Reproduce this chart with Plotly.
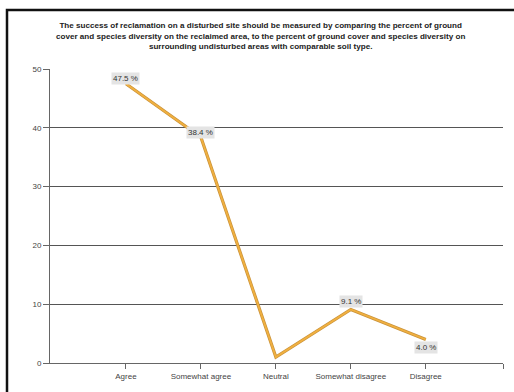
import plotly.graph_objects as go

categories = ["Agree", "Somewhat agree", "Neutral", "Somewhat disagree", "Disagree"]
values = [47.5, 38.4, 1.0, 9.1, 4.0]
labels = ["47.5 %", "38.4 %", "", "9.1 %", "4.0 %"]
label_shift = [5, 5, 0, 8, -8]
yticks = [0, 10, 20, 30, 40, 50]

title = ("The success of reclamation on a disturbed site should be measured by comparing the percent of ground<br>"
         "cover and species diversity on the reclaimed area, to the percent of ground cover and species diversity on<br>"
         "surrounding undisturbed areas with comparable soil type.")

xpos = list(range(len(categories)))
XMIN, XMAX = -1.013, 5.03

fig = go.Figure()
fig.add_trace(go.Scatter(x=xpos, y=values, mode="lines",
                         line=dict(color="#C9923A", width=3.2), hoverinfo="skip"))
fig.add_trace(go.Scatter(x=xpos, y=values, mode="lines",
                         line=dict(color="#F0B040", width=1.8)))

for xi, v, lab, s in zip(xpos, values, labels, label_shift):
    if lab:
        fig.add_annotation(x=xi, y=v, text=lab, showarrow=False, yshift=s,
                           bgcolor="#E4E4E4", borderpad=1,
                           font=dict(family="Liberation Sans, Arial", size=8, color="#333"))

W, H = 514, 392
ml, mr, mt, mb = 50, 11, 69, 29
pw, ph = W - ml - mr, H - mt - mb

def px(x):
    return (x - ml) / pw

def py(y):
    return (H - mb - y) / ph

fig.add_shape(type="rect", xref="paper", yref="paper",
              x0=px(7), x1=px(530), y0=py(10), y1=py(410),
              line=dict(color="#111", width=2.5), fillcolor="rgba(0,0,0,0)", layer="above")

fig.add_annotation(xref="paper", yref="paper", x=px(260), y=py(19), yanchor="top",
                   text="<b>" + title + "</b>", showarrow=False, align="center",
                   font=dict(family="Liberation Sans, Arial", size=8.1, color="#222"))

fig.update_layout(
    width=W, height=H, margin=dict(l=ml, r=mr, t=mt, b=mb),
    paper_bgcolor="white", plot_bgcolor="white", showlegend=False,
    xaxis=dict(range=[XMIN, XMAX], tickvals=xpos + [XMAX], ticktext=categories + [""],
               showgrid=False, zeroline=False, showline=True, linecolor="#666", linewidth=1,
               ticks="outside", ticklen=5, tickcolor="#666",
               tickfont=dict(family="Liberation Sans, Arial", size=8, color="#444")),
    yaxis=dict(range=[0, 50], tickvals=yticks, showgrid=True, gridcolor="#555", gridwidth=1,
               zeroline=False, showline=True, linecolor="#666", linewidth=1,
               ticks="outside", ticklen=6, tickcolor="#666",
               tickfont=dict(family="Liberation Sans, Arial", size=8, color="#444")),
)

fig.write_html("out.html")
